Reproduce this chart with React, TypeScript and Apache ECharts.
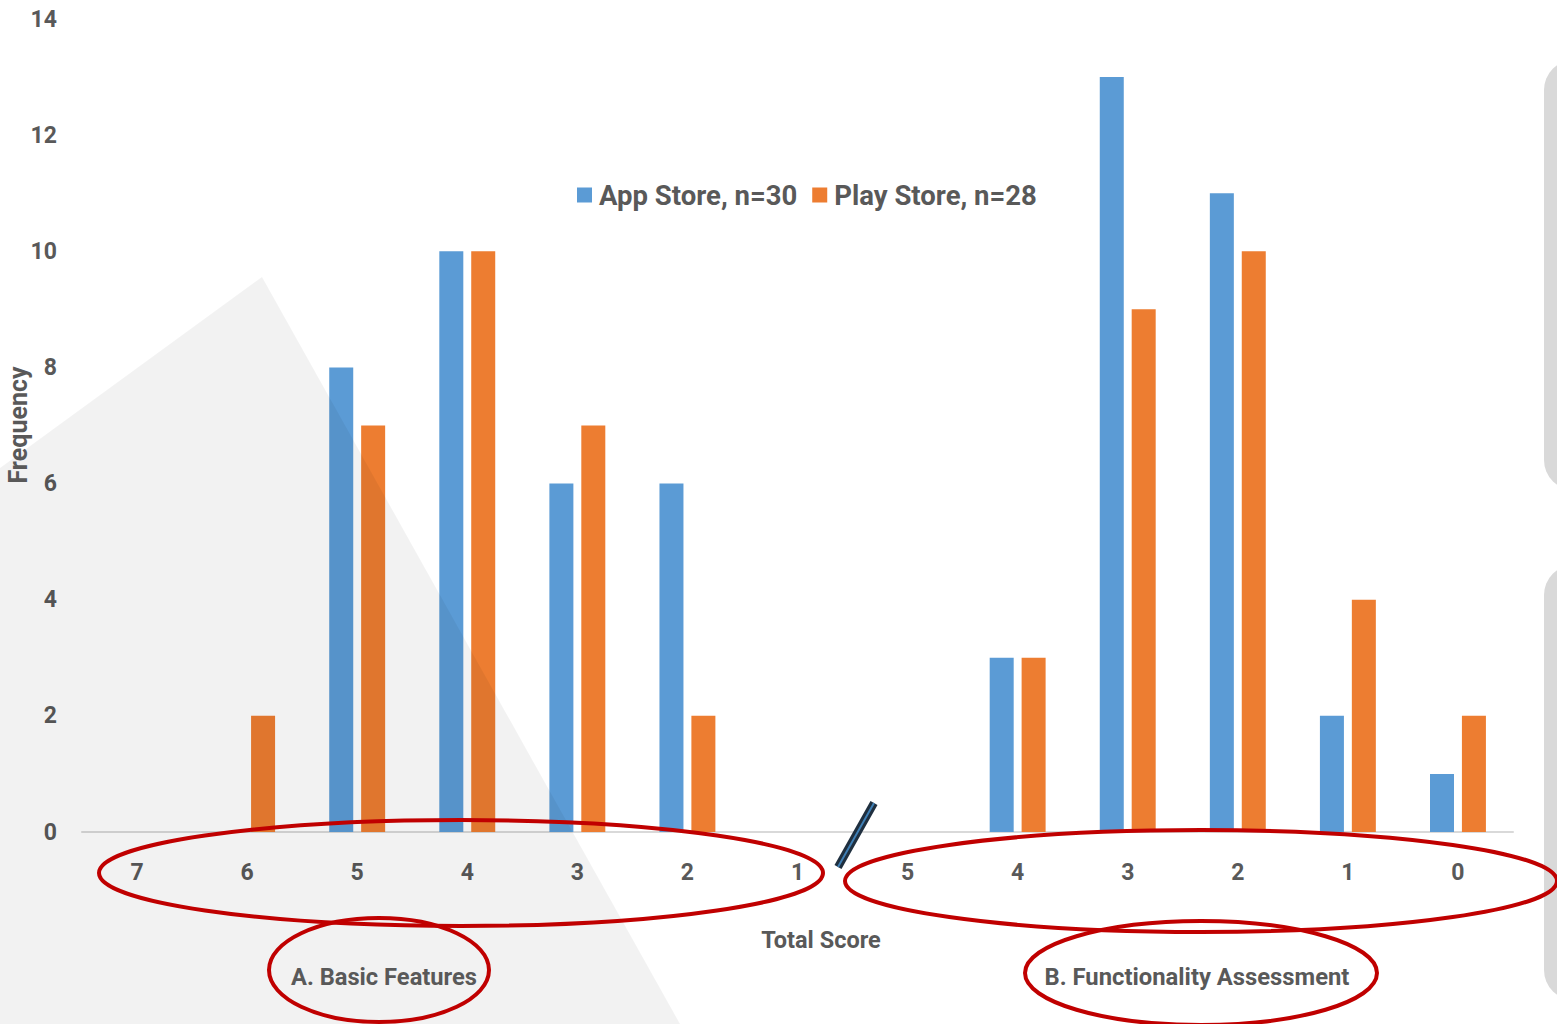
import React, { useEffect, useRef } from "react";
import * as echarts from "echarts";

const basicScores = ["7", "6", "5", "4", "3", "2", "1"];
const functionScores = ["5", "4", "3", "2", "1", "0"];
const appStore = [0, 0, 8, 10, 6, 6, 0, 0, 3, 13, 11, 2, 1];
const playStore = [0, 2, 7, 10, 7, 2, 0, 0, 3, 9, 10, 4, 2];
const yTicks = { min: 0, max: 14, interval: 2 };
const seriesNames = ["App Store, n=30", "Play Store, n=28"];
const groupNames = ["A. Basic Features", "B. Functionality Assessment"];
const axisTitles = ["Total Score", "Frequency"];

const FONT = "Roboto, 'Liberation Sans', sans-serif";
const GREY = "#595959";

export default function App() {
  const ref = useRef<HTMLDivElement>(null);
  useEffect(() => {
    if (!ref.current) return;
    const chart = echarts.init(ref.current, null, { renderer: "svg" });
    const categories = [
      ...basicScores.map((s) => "A-" + s),
      ...functionScores.map((s) => "B-" + s),
    ];
    chart.setOption({
      animation: false,
      backgroundColor: "#ffffff",
      textStyle: { fontFamily: FONT },
      grid: {
        left: 82,
        right: 44,
        top: 19,
        bottom: 192,
        containLabel: false,
        outerBoundsMode: "none",
      },
      legend: {
        data: seriesNames,
        left: 572,
        top: 176,
        itemWidth: 15,
        itemHeight: 15,
        itemGap: 15,
        icon: "rect",
        textStyle: { fontFamily: FONT, fontSize: 27.5, fontWeight: "bold", color: GREY, padding: [0, 0, 0, 2] },
      },
      xAxis: {
        type: "category",
        data: categories,
        axisLine: { lineStyle: { color: "#d9d9d9", width: 2 } },
        axisTick: { show: false },
        axisLabel: {
          formatter: (v: string) => v.split("-")[1],
          fontFamily: FONT,
          fontSize: 23,
          fontWeight: "bold",
          color: GREY,
          margin: 29,
        },
      },
      yAxis: {
        type: "value",
        min: yTicks.min,
        max: yTicks.max,
        interval: yTicks.interval,
        axisLine: { show: false },
        axisTick: { show: false },
        splitLine: { show: false },
        axisLabel: { fontFamily: FONT, fontSize: 23, fontWeight: "bold", color: GREY, margin: 25 },
      },
      series: [
        {
          name: seriesNames[0],
          type: "bar",
          data: appStore,
          barWidth: 24,
          barGap: "33%",
          itemStyle: { color: "#5b9bd5" },
        },
        {
          name: seriesNames[1],
          type: "bar",
          data: playStore,
          barWidth: 24,
          barGap: "33%",
          itemStyle: { color: "#ed7d31" },
        },
      ],
      graphic: [
        {
          type: "polygon",
          z: 100,
          silent: true,
          shape: { points: [[0, 468], [262, 277], [680, 1024], [0, 1024]] },
          style: { fill: "rgba(0,0,0,0.05)" },
        },
        {
          type: "rect",
          z: 100,
          shape: { x: 1544, y: 60, width: 80, height: 430, r: 30 },
          style: { fill: "#d9d9d9" },
        },
        {
          type: "rect",
          z: 100,
          shape: { x: 1544, y: 565, width: 80, height: 435, r: 30 },
          style: { fill: "#d9d9d9" },
        },
        {
          type: "text",
          z: 110,
          x: 18,
          y: 425,
          rotation: Math.PI / 2,
          style: {
            text: axisTitles[1],
            fontFamily: FONT,
            fontSize: 25,
            fontWeight: "bold",
            fill: GREY,
            align: "center",
            verticalAlign: "middle",
          },
        },
        {
          type: "text",
          z: 110,
          x: 821,
          y: 940,
          style: {
            text: axisTitles[0],
            fontFamily: FONT,
            fontSize: 23.5,
            fontWeight: "bold",
            fill: GREY,
            align: "center",
            verticalAlign: "middle",
          },
        },
        {
          type: "text",
          z: 110,
          x: 384,
          y: 977,
          style: {
            text: groupNames[0],
            fontFamily: FONT,
            fontSize: 23.7,
            fontWeight: "bold",
            fill: GREY,
            align: "center",
            verticalAlign: "middle",
          },
        },
        {
          type: "text",
          z: 110,
          x: 1197,
          y: 977,
          style: {
            text: groupNames[1],
            fontFamily: FONT,
            fontSize: 23.8,
            fontWeight: "bold",
            fill: GREY,
            align: "center",
            verticalAlign: "middle",
          },
        },
        {
          type: "line",
          z: 120,
          shape: { x1: 838, y1: 867, x2: 874, y2: 803 },
          style: { stroke: "#1f2f3f", lineWidth: 8, lineCap: "butt" },
        },
        {
          type: "line",
          z: 121,
          shape: { x1: 838, y1: 867, x2: 874, y2: 803 },
          style: { stroke: "#3f7fb5", lineWidth: 2, lineCap: "butt" },
        },
        {
          type: "ellipse",
          z: 130,
          shape: { cx: 461, cy: 873, rx: 362, ry: 53 },
          style: { fill: "none", stroke: "#c00000", lineWidth: 4 },
        },
        {
          type: "ellipse",
          z: 130,
          shape: { cx: 1201, cy: 881, rx: 356, ry: 51 },
          style: { fill: "none", stroke: "#c00000", lineWidth: 4 },
        },
        {
          type: "ellipse",
          z: 130,
          shape: { cx: 379, cy: 970, rx: 110, ry: 52 },
          style: { fill: "none", stroke: "#c00000", lineWidth: 4 },
        },
        {
          type: "ellipse",
          z: 130,
          shape: { cx: 1201, cy: 973, rx: 176, ry: 52 },
          style: { fill: "none", stroke: "#c00000", lineWidth: 4 },
        },
      ],
    });
    return () => chart.dispose();
  }, []);
  return (
    <div
      ref={ref}
      style={{ position: "fixed", left: 0, top: 0, width: 1557, height: 1024 }}
    />
  );
}
